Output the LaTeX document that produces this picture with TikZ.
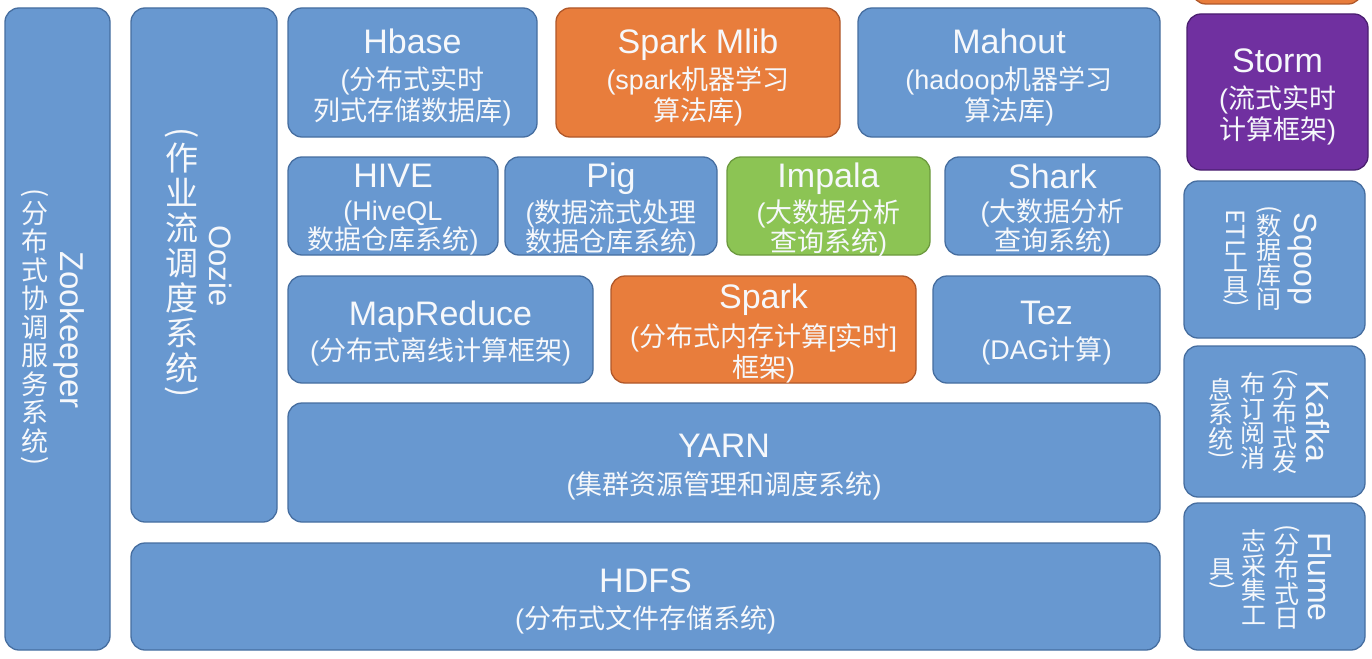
\documentclass[tikz,border=0pt]{standalone}
\usepackage{fontspec}
\setmainfont{Liberation Sans}
\newfontfamily\cjk{Noto Sans CJK SC}
\usepackage{graphicx}
\newcommand\C[1]{{\cjk #1}}
\newcommand\T[1]{{\fontsize{34}{34}\selectfont #1}}
\newcommand\vr[1]{\raisebox{0.55em}{\rotatebox{-90}{#1}}}
\newcommand\vw[1]{\raisebox{0.8em}{\rotatebox{-90}{#1}}}
\definecolor{bfill}{HTML}{6898D0}
\definecolor{bdraw}{HTML}{466EA0}
\definecolor{ofill}{HTML}{E87D3C}
\definecolor{odraw}{HTML}{B0582A}
\definecolor{gfill}{HTML}{8CC454}
\definecolor{gdraw}{HTML}{6C9A3E}
\definecolor{pfill}{HTML}{7030A0}
\definecolor{pdraw}{HTML}{4B1F70}
\definecolor{txt}{HTML}{F6F8FB}
\tikzset{
  box/.style={draw=bdraw, fill=bfill, line width=1.3pt, rounded corners=14pt, inner sep=0pt, outer sep=0pt},
  obox/.style={draw=odraw, fill=ofill},
  gbox/.style={draw=gdraw, fill=gfill},
  pbox/.style={draw=pdraw, fill=pfill},
  bbox/.style={},
  lbl/.style={text=txt, align=center, inner sep=0pt, font=\fontsize{27}{31}\selectfont},
  lbltight/.style={lbl, font=\fontsize{27}{29}\selectfont},
  vword/.style={text=txt, rotate=-90, inner sep=0pt},
  vcol/.style={text=txt, align=center, inner sep=0pt},
  rcol/.style={vcol, font=\cjk\fontsize{25}{24.5}\selectfont},
  rword/.style={vword, font=\fontsize{32}{32}\selectfont},
}
\newcommand\blk[6]{\node[box,#6,minimum width={(#4-#2)*1pt},minimum height={(#5-#3)*1pt}] (#1) at ({(#2+#4)/2},{(#3+#5)/2}) {};}
\begin{document}
\begin{tikzpicture}[x=1pt,y=-1pt]
\useasboundingbox (0,0) rectangle (1372,658);
\fill[white] (0,0) rectangle (1372,658);
\begin{scope}
\clip (0,0) rectangle (1372,658);
\blk{top}{1192}{-40}{1362}{4}{obox}
\end{scope}
% boxes
\blk{zk}{5}{8}{110}{650}{bbox}
\blk{oozie}{131}{8}{277}{522}{bbox}
\blk{hbase}{288}{8}{537}{137}{bbox}
\blk{mlib}{556}{8}{840}{137}{obox}
\blk{mahout}{858}{8}{1160}{137}{bbox}
\blk{storm}{1187}{14}{1368}{170}{pbox}
\blk{hive}{288}{157}{498}{255}{bbox}
\blk{pig}{505}{157}{717}{255}{bbox}
\blk{impala}{727}{157}{930}{255}{gbox}
\blk{shark}{945}{157}{1160}{255}{bbox}
\blk{mr}{288}{276}{593}{383}{bbox}
\blk{spark}{611}{276}{916}{383}{obox}
\blk{tez}{933}{276}{1160}{383}{bbox}
\blk{yarn}{288}{403}{1160}{522}{bbox}
\blk{hdfs}{131}{543}{1160}{650}{bbox}
\blk{sqoop}{1184}{181}{1365}{338}{bbox}
\blk{kafka}{1184}{346}{1365}{497}{bbox}
\blk{flume}{1184}{503}{1365}{650}{bbox}
% horizontal labels
\node[lbl] (hbase-t) at ([yshift=-5pt]hbase.center) {\T{Hbase}\\[5pt](\C{分布式实时}\\\C{列式存储数据库})};
\node[lbl] (mlib-t) at ([yshift=-5pt]mlib.center) {\T{Spark Mlib}\\[5pt](spark\C{机器学习}\\\C{算法库})};
\node[lbl] (mahout-t) at ([yshift=-5pt]mahout.center) {\T{Mahout}\\[5pt](hadoop\C{机器学习}\\\C{算法库})};
\node[lbl] (storm-t) at ([yshift=-5pt]storm.center) {\T{Storm}\\[5pt](\C{流式实时}\\\C{计算框架})};
\node[lbltight] (hive-t) at ([yshift=-4pt]hive.center) {\T{HIVE}\\[4pt](HiveQL\\\C{数据仓库系统})};
\node[lbltight] (pig-t) at ([yshift=-4pt]pig.center) {\T{Pig}\\[4pt](\C{数据流式处理}\\\C{数据仓库系统})};
\node[lbltight] (impala-t) at ([yshift=-4pt]impala.center) {\T{Impala}\\[4pt](\C{大数据分析}\\\C{查询系统})};
\node[lbltight] (shark-t) at ([yshift=-4pt]shark.center) {\T{Shark}\\[4pt](\C{大数据分析}\\\C{查询系统})};
\node[lbl] (mr-t) at ([yshift=-4pt]mr.center) {\T{MapReduce}\\[4pt](\C{分布式离线计算框架})};
\node[lbl] (spark-t) at ([yshift=-4pt]spark.center) {\T{Spark}\\[7pt](\C{分布式内存计算}[\C{实时}]\\\C{框架})};
\node[lbl] (tez-t) at ([yshift=-4pt]tez.center) {\T{Tez}\\[4pt](DAG\C{计算})};
\node[lbl] (yarn-t) at ([yshift=-5pt]yarn.center) {\T{YARN}\\[6pt](\C{集群资源管理和调度系统})};
\node[lbl] (hdfs-t) at ([yshift=-5pt]hdfs.center) {\T{HDFS}\\[5pt](\C{分布式文件存储系统})};
% vertical labels, left
\node[vword, font=\fontsize{33}{33}\selectfont] (zk-t) at (69,330) {Zookeeper};
\node[vcol, font=\cjk\fontsize{27}{28.5}\selectfont] (zk-s) at (35,330) {\vr{(}\\[-0.33em]分\\布\\式\\协\\调\\服\\务\\系\\统\\[-0.33em]\vr{)}};
\node[vword, font=\fontsize{31}{31}\selectfont] (oozie-t) at (221,266) {Oozie};
\node[vcol, font=\cjk\fontsize{33}{35}\selectfont] (oozie-s) at (182,266) {\vr{(}\\[-0.33em]作\\业\\流\\调\\度\\系\\统\\[-0.33em]\vr{)}};
% vertical labels, right
\node[rword] (sqoop-t) at (1302,259) {Sqoop};
\node[rcol] (sqoop-s1) at (1269,258) {\vr{(}\\[-0.33em]数\\据\\库\\间};
\node[rcol] (sqoop-s2) at (1236,261) {\vw{ETL}\\工\\具\\[-0.33em]\vr{)}};
\node[rword] (kafka-t) at (1318,421) {Kafka};
\node[rcol] (kafka-s1) at (1285,421) {\vr{(}\\[-0.33em]分\\布\\式\\发};
\node[rcol] (kafka-s2) at (1253,421) {布\\订\\阅\\消};
\node[rcol] (kafka-s3) at (1221,421) {息\\系\\统\\[-0.33em]\vr{)}};
\node[rword] (flume-t) at (1320,577) {Flume};
\node[rcol] (flume-s1) at (1287,577) {\vr{(}\\[-0.33em]分\\布\\式\\日};
\node[rcol] (flume-s2) at (1254,577) {志\\采\\集\\工};
\node[rcol] (flume-s3) at (1222,577) {具\\[-0.33em]\vr{)}};
\end{tikzpicture}
\end{document}
